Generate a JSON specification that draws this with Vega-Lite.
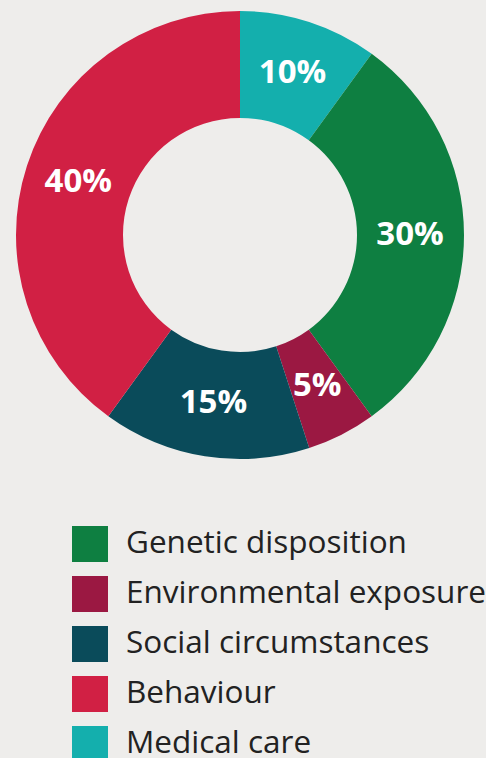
{
  "$schema": "https://vega.github.io/schema/vega-lite/v6.json",
  "width": 480,
  "height": 470,
  "padding": 0,
  "autosize": {"type": "pad"},
  "background": "#EEEDEB",
  "config": {"view": {"stroke": null}, "font": "Open Sans"},
  "data": {
    "values": [
      {"category": "Medical care", "value": 10, "label": "10%", "order": 1},
      {"category": "Genetic disposition", "value": 30, "label": "30%", "order": 2},
      {"category": "Environmental exposure", "value": 5, "label": "5%", "order": 3},
      {"category": "Social circumstances", "value": 15, "label": "15%", "order": 4},
      {"category": "Behaviour", "value": 40, "label": "40%", "order": 5}
    ]
  },
  "encoding": {
    "theta": {"field": "value", "type": "quantitative", "stack": true},
    "order": {"field": "order", "type": "quantitative"}
  },
  "layer": [
    {
      "mark": {"type": "arc", "outerRadius": 224, "innerRadius": 117, "strokeWidth": 0},
      "encoding": {
        "color": {
          "field": "category",
          "type": "nominal",
          "scale": {
            "domain": ["Genetic disposition", "Environmental exposure", "Social circumstances", "Behaviour", "Medical care"],
            "range": ["#0E7F41", "#9B1842", "#0A4B5A", "#D12044", "#14AFAD"]
          },
          "legend": {
            "title": null,
            "orient": "none",
            "legendX": 72,
            "legendY": 526,
            "symbolType": "square",
            "symbolSize": 1296,
            "symbolStrokeWidth": 0,
            "symbolOpacity": 1,
            "labelFontSize": 31.5,
            "labelColor": "#222222",
            "labelOffset": 18,
            "rowPadding": 14,
            "labelLimit": 500
          }
        }
      }
    },
    {
      "mark": {"type": "text", "radius": 170, "fontSize": 33, "fontWeight": "bold", "color": "white", "align": "center", "baseline": "middle"},
      "encoding": {"text": {"field": "label", "type": "nominal"}}
    }
  ]
}
